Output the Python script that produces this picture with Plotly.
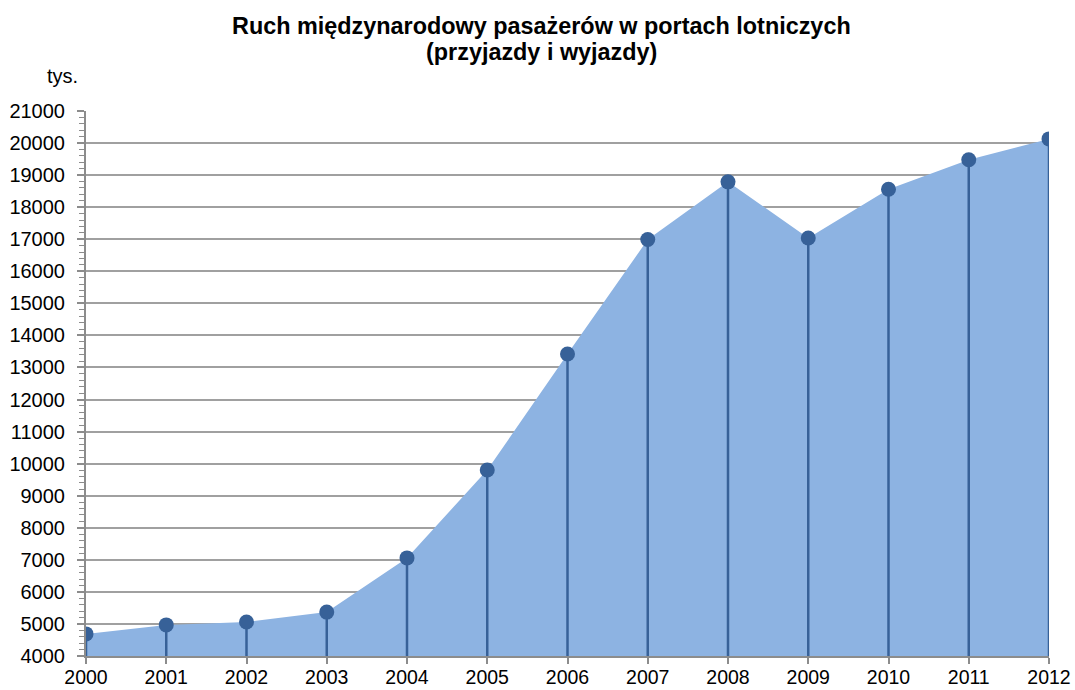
import plotly.graph_objects as go

years = [2000, 2001, 2002, 2003, 2004, 2005, 2006, 2007, 2008, 2009, 2010, 2011, 2012]
values = [4690, 4970, 5060, 5370, 7060, 9800, 13420, 16990, 18790, 17040, 18560, 19480, 20130]
y_ticks = list(range(4000, 21001, 1000))
title_line1 = "<b>Ruch międzynarodowy pasażerów w portach lotniczych</b>"
title_line2 = "<b>(przyjazdy i wyjazdy)</b>"
unit_label = "tys."

FILL = "#8DB3E2"
DARK = "#376198"
BASE = y_ticks[0]

# drop lines from each point to the base of the axis
dx, dy = [], []
for x, v in zip(years, values):
    dx += [x, x, None]
    dy += [BASE, v, None]

fig = go.Figure()
fig.add_trace(go.Scatter(x=years, y=values, mode="lines", line=dict(width=0, color=FILL),
                         fill="tozeroy", fillcolor=FILL, hoverinfo="skip"))
fig.add_trace(go.Scatter(x=dx, y=dy, mode="lines", line=dict(color=DARK, width=2.5), hoverinfo="skip"))
fig.add_trace(go.Scatter(x=years, y=values, mode="markers",
                         marker=dict(color=DARK, size=15, line=dict(width=0))))

font = "Liberation Sans, Arial, sans-serif"
fig.update_layout(
    width=1075, height=690,
    margin=dict(l=86, r=26, t=111, b=34, autoexpand=False),
    paper_bgcolor="white", plot_bgcolor="white",
    showlegend=False,
    font=dict(family=font, size=20, color="black"),
    xaxis=dict(range=[years[0], years[-1]], tickvals=years, ticktext=[str(y) for y in years],
               showgrid=False, showline=True, linecolor="#8c8c8c", linewidth=2,
               ticks="outside", ticklen=6, tickcolor="#8c8c8c", tickwidth=1.5,
               ticklabelstandoff=-3,
               zeroline=False, tickfont=dict(size=19.5), automargin=False),
    yaxis=dict(range=[y_ticks[0], y_ticks[-1]], tickvals=y_ticks, ticktext=[str(v) for v in y_ticks],
               showgrid=True, gridcolor="#a0a0a0", gridwidth=1.6,
               showline=True, linecolor="#8c8c8c", linewidth=2,
               ticks="outside", ticklen=7, tickcolor="#8c8c8c", tickwidth=1.5,
               ticklabelstandoff=8, zeroline=False, tickfont=dict(size=20), automargin=False,
               minor=dict(dtick=200, ticks="outside", ticklen=5, tickcolor="#8c8c8c",
                          tickwidth=1, showgrid=False)),
    annotations=[
        dict(text=title_line1, xref="paper", yref="paper", x=0.4725, y=(690 - 26 - 34) / 545,
             xanchor="center", yanchor="middle", showarrow=False,
             font=dict(family=font, size=23.4, color="black")),
        dict(text=title_line2, xref="paper", yref="paper", x=0.4725, y=(690 - 52 - 34) / 545,
             xanchor="center", yanchor="middle", showarrow=False,
             font=dict(family=font, size=23.4, color="black")),
        dict(text=unit_label, xref="paper", yref="paper", x=-0.0243, y=1.065,
             xanchor="center", yanchor="middle", showarrow=False,
             font=dict(family=font, size=20, color="black")),
    ],
)

fig.write_html("out.html", post_script="document.body.style.margin='0';",
               config={"displayModeBar": False})
